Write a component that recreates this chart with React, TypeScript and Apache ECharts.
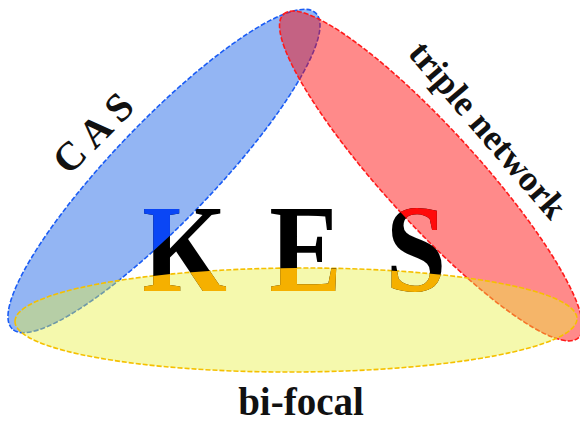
import React, { useEffect, useRef } from "react";
import * as echarts from "echarts";

// Content
const circleNames = ["CAS", "triple network", "bi-focal"];
const circleLabels = ["C A S", "triple network", "bi-focal"];
const centerWord = ["K", "E", "S"];

// Styling
const FILLS = ["rgba(30,100,230,0.48)", "rgba(255,0,0,0.46)", "rgba(230,240,60,0.42)"];
const STROKES = ["#1a5cf5", "#ff1a1a", "#f5c000"];
const LETTER_COLORS = ["#0a46f5", "#ff0a0a", "#f5b000"];
const SERIF = '"Liberation Serif", "Times New Roman", serif';

// Ellipse geometry (layout)
const ELL = [
  { cx: 164, cy: 171, a: 219, b: 50, r: 0.805 },
  { cx: 431, cy: 176, a: 219, b: 47, r: -0.832 },
  { cx: 296, cy: 320, a: 281, b: 52, r: 0.005 },
];
const LABEL_POS = [
  { x: 93, y: 133, r: 0.785, size: 40 },
  { x: 488, y: 130, r: -0.86, size: 36 },
  { x: 301, y: 401, r: 0, size: 39 },
];
const LETTER_X = [184.5, 305.5, 416];
const LETTER_Y = 249;
const LETTER_SCALE_X = 0.87;

function ellipsePoints(e: { cx: number; cy: number; a: number; b: number; r: number }, n = 120) {
  const pts: number[][] = [];
  const c = Math.cos(e.r), s = Math.sin(e.r);
  for (let i = 0; i < n; i++) {
    const t = (i / n) * Math.PI * 2;
    const lx = e.a * Math.cos(t), ly = e.b * Math.sin(t);
    pts.push([e.cx + lx * c + ly * s, e.cy - lx * s + ly * c]);
  }
  return pts;
}

export default function App() {
  const ref = useRef<HTMLDivElement>(null);
  useEffect(() => {
    if (!ref.current) return;
    const chart = echarts.init(ref.current, null, { renderer: "svg" });
    const elements: any[] = [];
    ELL.forEach((e, i) => {
      elements.push({
        type: "ellipse",
        x: e.cx,
        y: e.cy,
        rotation: e.r,
        z: 1,
        shape: { cx: 0, cy: 0, rx: e.a, ry: e.b },
        style: {
          fill: FILLS[i],
          stroke: STROKES[i],
          lineWidth: 1.6,
          lineDash: [5, 2],
          blend: "multiply",
        },
      });
    });
    circleLabels.forEach((t, i) => {
      const p = LABEL_POS[i];
      elements.push({
        type: "text",
        x: p.x,
        y: p.y,
        rotation: p.r,
        z: 5,
        name: circleNames[i],
        style: {
          text: t,
          font: `bold ${p.size}px ${SERIF}`,
          fill: "#111",
          textAlign: "center",
          textVerticalAlign: "middle",
          align: "center",
          verticalAlign: "middle",
        },
      });
    });
    chart.setOption({
      animation: false,
      backgroundColor: "#ffffff",
      graphic: { elements },
    });

    // Center word, coloured by region (clipped copies)
    const zr = chart.getZr();
    const clipColors = ["#000000", ...LETTER_COLORS];
    centerWord.forEach((L, li) => {
      const cx = LETTER_X[li];
      clipColors.forEach((col, ci) => {
        const txt = new (echarts.graphic as any).Text({
          x: cx,
          y: LETTER_Y,
          scaleX: LETTER_SCALE_X,
          z: 100,
          z2: ci,
          silent: true,
          style: {
            text: L,
            x: 0,
            y: 0,
            align: "center",
            verticalAlign: "middle",
            font: `bold 125px ${SERIF}`,
            fill: col,
          },
        });
        if (ci > 0) {
          const e = ELL[ci - 1];
          const pts = ellipsePoints(e).map(([px, py]) => [(px - cx) / LETTER_SCALE_X, py - LETTER_Y]);
          txt.setClipPath(new (echarts.graphic as any).Polygon({ shape: { points: pts } }));
        }
        zr.add(txt);
      });
    });

    return () => chart.dispose();
  }, []);
  return (
    <div
      ref={ref}
      style={{ position: "fixed", left: 0, top: 0, width: 580, height: 421, background: "#fff" }}
    />
  );
}
